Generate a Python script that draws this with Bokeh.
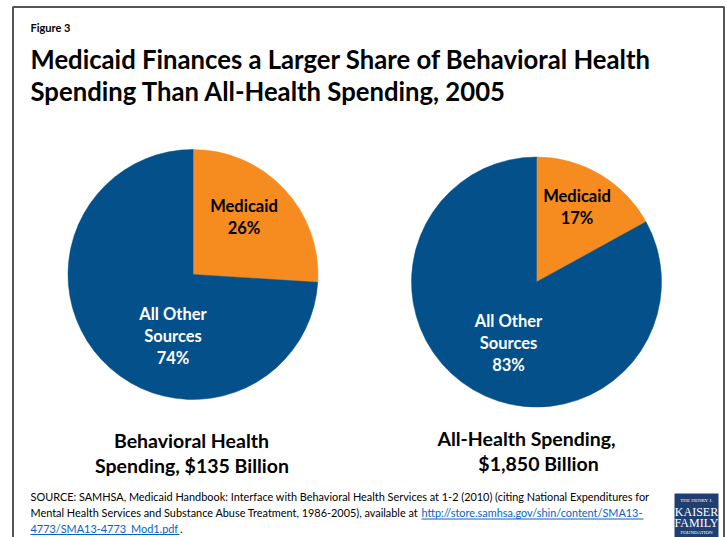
from bokeh.plotting import figure
from bokeh.models import Range1d
from bokeh.core.properties import value
from bokeh.embed import file_html
from bokeh.resources import INLINE
import math

# ---- data ----
categories = ["Medicaid", "All Other Sources"]
behavioral_share = [26, 74]
all_health_share = [17, 83]
pie_titles = [["Behavioral Health", "Spending, $135 Billion"],
              ["All-Health Spending,", "$1,850 Billion"]]
colors = ["#F68B1F", "#03508B"]

FONT = "Lato"
W, H = 727, 537

p = figure(width=W, height=H, output_backend="svg", toolbar_location=None,
           x_range=Range1d(0, W), y_range=Range1d(0, H), min_border=0)
p.axis.visible = False
p.grid.visible = False
p.outline_line_color = None
p.background_fill_color = "white"

def Y(sy):
    return H - sy

# frame
p.line(x=[12.5, 12.5, 723.5, 723.5], y=[Y(545), Y(6.5), Y(6.5), Y(545)], line_color="#555555", line_width=2)

# title
p.text(x=[30], y=[Y(27)], text=["Figure 3"], text_font=value(FONT), text_font_style="bold",
       text_font_size="11px", text_baseline="middle", text_color="black")
p.text(x=[30, 30], y=[Y(58), Y(90)],
       text=["Medicaid Finances a Larger Share of Behavioral Health",
             "Spending Than All-Health Spending, 2005"],
       text_font=value(FONT), text_font_style="bold", text_font_size="25.7px",
       text_baseline="middle", text_color="black")

def pie(cx, cy, shares, med_pos, other_pos, title_pos, titles):
    start = math.pi / 2
    total = sum(shares)
    for i, s in enumerate(shares):
        end = start - 2 * math.pi * s / total
        p.wedge(x=[cx], y=[Y(cy)], radius=125, radius_units="screen",
                start_angle=end, end_angle=start, direction="anticlock",
                fill_color=colors[i], line_color=colors[i], line_width=0.5)
        start = end
    mx, my = med_pos
    p.text(x=[mx, mx], y=[Y(my), Y(my + 22)], text=["Medicaid", f"{shares[0]}%"],
           text_font=value(FONT), text_font_style="bold", text_font_size="16.5px",
           text_align="center", text_baseline="middle", text_color="black")
    ox, oy = other_pos
    p.text(x=[ox, ox, ox], y=[Y(oy), Y(oy + 22), Y(oy + 44)],
           text=["All Other", "Sources", f"{shares[1]}%"],
           text_font=value(FONT), text_font_style="bold", text_font_size="16.5px",
           text_align="center", text_baseline="middle", text_color="white")
    (tx1, tx2), ty = title_pos
    p.text(x=[tx1, tx2], y=[Y(ty), Y(ty + 25)], text=titles,
           text_font=value(FONT), text_font_style="bold", text_font_size="19.5px",
           text_align="center", text_baseline="middle", text_color="black")

pie(192.5, 274, behavioral_share, (243.5, 205.5), (172.5, 313.5), ((191, 191.5), 440), pie_titles[0])
pie(536, 281.5, all_health_share, (576.5, 195.5), (508, 320), ((526, 538), 438), pie_titles[1])

# source
src_font = "10.9px"
p.text(x=[30], y=[Y(496)],
       text=["SOURCE:  SAMHSA, Medicaid Handbook:  Interface with Behavioral Health Services at 1-2 (2010) (citing National Expenditures for"],
       text_font=value(FONT), text_font_size=src_font, text_baseline="middle", text_color="black")
p.text(x=[30], y=[Y(512)],
       text=["Mental Health Services and Substance Abuse Treatment, 1986-2005), available at "],
       text_font=value(FONT), text_font_size=src_font, text_baseline="middle", text_color="black")
link_color = "#0563C1"
p.text(x=[421, 30], y=[Y(512), Y(528)],
       text=["http://store.samhsa.gov/shin/content/SMA13-", "4773/SMA13-4773_Mod1.pdf"],
       text_font=value(FONT), text_font_size=src_font, text_baseline="middle", text_color=link_color)
p.segment(x0=[421, 30], y0=[Y(518.5), Y(534)], x1=[643, 179], y1=[Y(518.5), Y(534)],
          line_color=link_color, line_width=1)
p.text(x=[179.5], y=[Y(528)], text=["."], text_font=value(FONT), text_font_size=src_font,
       text_baseline="middle", text_color="black")

# logo
p.quad(left=[674], right=[718], top=[Y(493)], bottom=[Y(545)], fill_color="#1F3F73", line_color=None)
p.text(x=[696, 696, 696, 696], y=[Y(500), Y(511), Y(522.5), Y(532)],
       text=["THE HENRY J.", "KAISER", "FAMILY", "FOUNDATION"],
       text_font=value("Liberation Serif"), text_font_size=["5px", "12px", "12px", "5px"],
       text_align="center", text_baseline="middle", text_color="white")

open("out.html", "w").write(file_html(p, INLINE))
